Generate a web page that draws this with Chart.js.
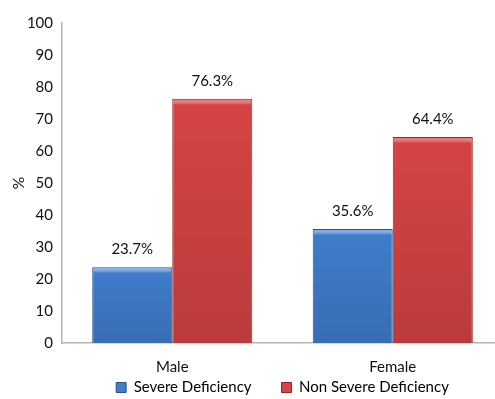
<!DOCTYPE html>
<html>
<head>
<meta charset="utf-8">
<script src="https://cdn.jsdelivr.net/npm/chart.js@4.4.0/dist/chart.umd.min.js"></script>
<style>
  html, body { margin: 0; padding: 0; background: #ffffff; overflow: hidden; }
  #wrap { position: relative; width: 503px; height: 399px; }
</style>
</head>
<body>
<div id="wrap"><canvas id="chart"></canvas></div>
<script>
// Share of deficiency severity by sex
const categories = ['Male', 'Female'];
const severeDeficiency = [23.7, 35.6];
const nonSevereDeficiency = [76.3, 64.4];
const yTicks = [0, 10, 20, 30, 40, 50, 60, 70, 80, 90, 100];
const seriesNames = ['Severe Deficiency', 'Non Severe Deficiency'];

const FONT = 'Lato, "Open Sans", "Noto Sans", sans-serif';
const LEGEND_PAD = 30;

// bevelled-looking fill: darker edges, brighter centre
function barFill(stops) {
  return function (ctx) {
    const chart = ctx.chart;
    const el = ctx.element;
    if (!chart.chartArea || !el || el.width === undefined) return stops[1];
    const x0 = el.x - el.width / 2;
    const g = chart.ctx.createLinearGradient(x0, 0, x0 + el.width, 0);
    g.addColorStop(0, stops[0]);
    g.addColorStop(0.07, stops[1]);
    g.addColorStop(0.92, stops[1]);
    g.addColorStop(1, stops[2]);
    return g;
  };
}
const blueStops = ['#3566ad', '#407dcc', '#2b5696'];
const redStops = ['#b83636', '#d64444', '#962828'];

// value labels above every bar
const valueLabels = {
  id: 'valueLabels',
  afterDatasetsDraw(chart) {
    const ctx = chart.ctx;
    ctx.save();
    ctx.font = '15px ' + FONT;
    ctx.fillStyle = '#111111';
    ctx.textAlign = 'center';
    ctx.textBaseline = 'middle';
    chart.data.datasets.forEach((ds, i) => {
      chart.getDatasetMeta(i).data.forEach((el, j) => {
        ctx.fillText(ds.data[j].toFixed(1) + '%', el.x, el.y - 18);
      });
    });
    ctx.restore();
  }
};

// top highlight strip and slight shading toward the base of each bar
const barBevel = {
  id: 'barBevel',
  afterDatasetsDraw(chart) {
    const ctx = chart.ctx;
    ctx.save();
    chart.data.datasets.forEach((ds, i) => {
      const light = i === 0 ? 'rgba(140,190,245,0.85)' : 'rgba(240,120,120,0.85)';
      chart.getDatasetMeta(i).data.forEach((el) => {
        const x0 = el.x - el.width / 2 + 1;
        const w = el.width - 2;
        const shade = ctx.createLinearGradient(0, el.y, 0, el.base);
        shade.addColorStop(0, 'rgba(0,0,0,0)');
        shade.addColorStop(1, 'rgba(0,0,0,0.13)');
        ctx.fillStyle = shade;
        ctx.fillRect(x0, el.y + 1, w, el.base - el.y - 1);
        const g = ctx.createLinearGradient(0, el.y + 1, 0, el.y + 6);
        g.addColorStop(0, light);
        g.addColorStop(1, 'rgba(255,255,255,0)');
        ctx.fillStyle = g;
        ctx.fillRect(x0, el.y + 1, w, 5);
      });
    });
    ctx.restore();
  }
};

// compact legend row, placed under the plot
const legendPlace = {
  id: 'legendPlace',
  beforeLayout(chart) {
    const lg = chart.legend;
    if (lg && !lg._compact) {
      const fit = lg.fit.bind(lg);
      lg.fit = function () { fit(); this.height = 22; };
      lg._compact = true;
    }
  },
  afterLayout(chart) {
    const lg = chart.legend;
    if (!lg) return;
    lg.left += 31; lg.right += 31;
    lg.top = 389 - LEGEND_PAD - 9;
    lg.bottom = lg.top + 2 * LEGEND_PAD + 20;
  }
};

new Chart(document.getElementById('chart'), {
  type: 'bar',
  data: {
    labels: categories,
    datasets: [
      {
        label: seriesNames[0],
        data: severeDeficiency,
        backgroundColor: barFill(blueStops),
        borderColor: '#2a5390',
        borderWidth: 1,
        categoryPercentage: 0.726,
        barPercentage: 1.0
      },
      {
        label: seriesNames[1],
        data: nonSevereDeficiency,
        backgroundColor: barFill(redStops),
        borderColor: '#8e2626',
        borderWidth: 1,
        categoryPercentage: 0.726,
        barPercentage: 1.0
      }
    ]
  },
  options: {
    responsive: true,
    maintainAspectRatio: false,
    animation: false,
    layout: { padding: { top: 23, right: 0, bottom: 2, left: 0 } },
    scales: {
      x: {
        afterFit(scale) { scale.height = 32; },
        grid: { display: false, drawTicks: false },
        border: { display: true, color: '#b3b3b3', width: 1.5 },
        ticks: { padding: 15, color: '#111111', font: { family: FONT, size: 15 } }
      },
      y: {
        min: 0,
        max: 100,
        afterBuildTicks(scale) { scale.ticks = yTicks.map(v => ({ value: v })); },
        afterFit(scale) { scale.width = 62; },
        grid: { display: false, drawTicks: false },
        border: { display: true, color: '#b3b3b3', width: 1.5 },
        ticks: { padding: 9, color: '#111111', font: { family: FONT, size: 15 } },
        title: {
          display: true,
          text: '%',
          color: '#111111',
          padding: { top: 9, bottom: 0 },
          font: { family: FONT, size: 16 }
        }
      }
    },
    plugins: {
      tooltip: { enabled: false },
      legend: {
        position: 'bottom',
        labels: {
          boxWidth: 10,
          boxHeight: 10,
          padding: LEGEND_PAD,
          color: '#111111',
          font: { family: FONT, size: 15 },
          generateLabels() {
            return [
              { text: seriesNames[0], fillStyle: '#407dcc', strokeStyle: '#2a5390', lineWidth: 1, datasetIndex: 0 },
              { text: seriesNames[1], fillStyle: '#d64444', strokeStyle: '#8e2626', lineWidth: 1, datasetIndex: 1 }
            ];
          }
        }
      }
    }
  },
  plugins: [valueLabels, barBevel, legendPlace]
});
</script>
</body>
</html>
